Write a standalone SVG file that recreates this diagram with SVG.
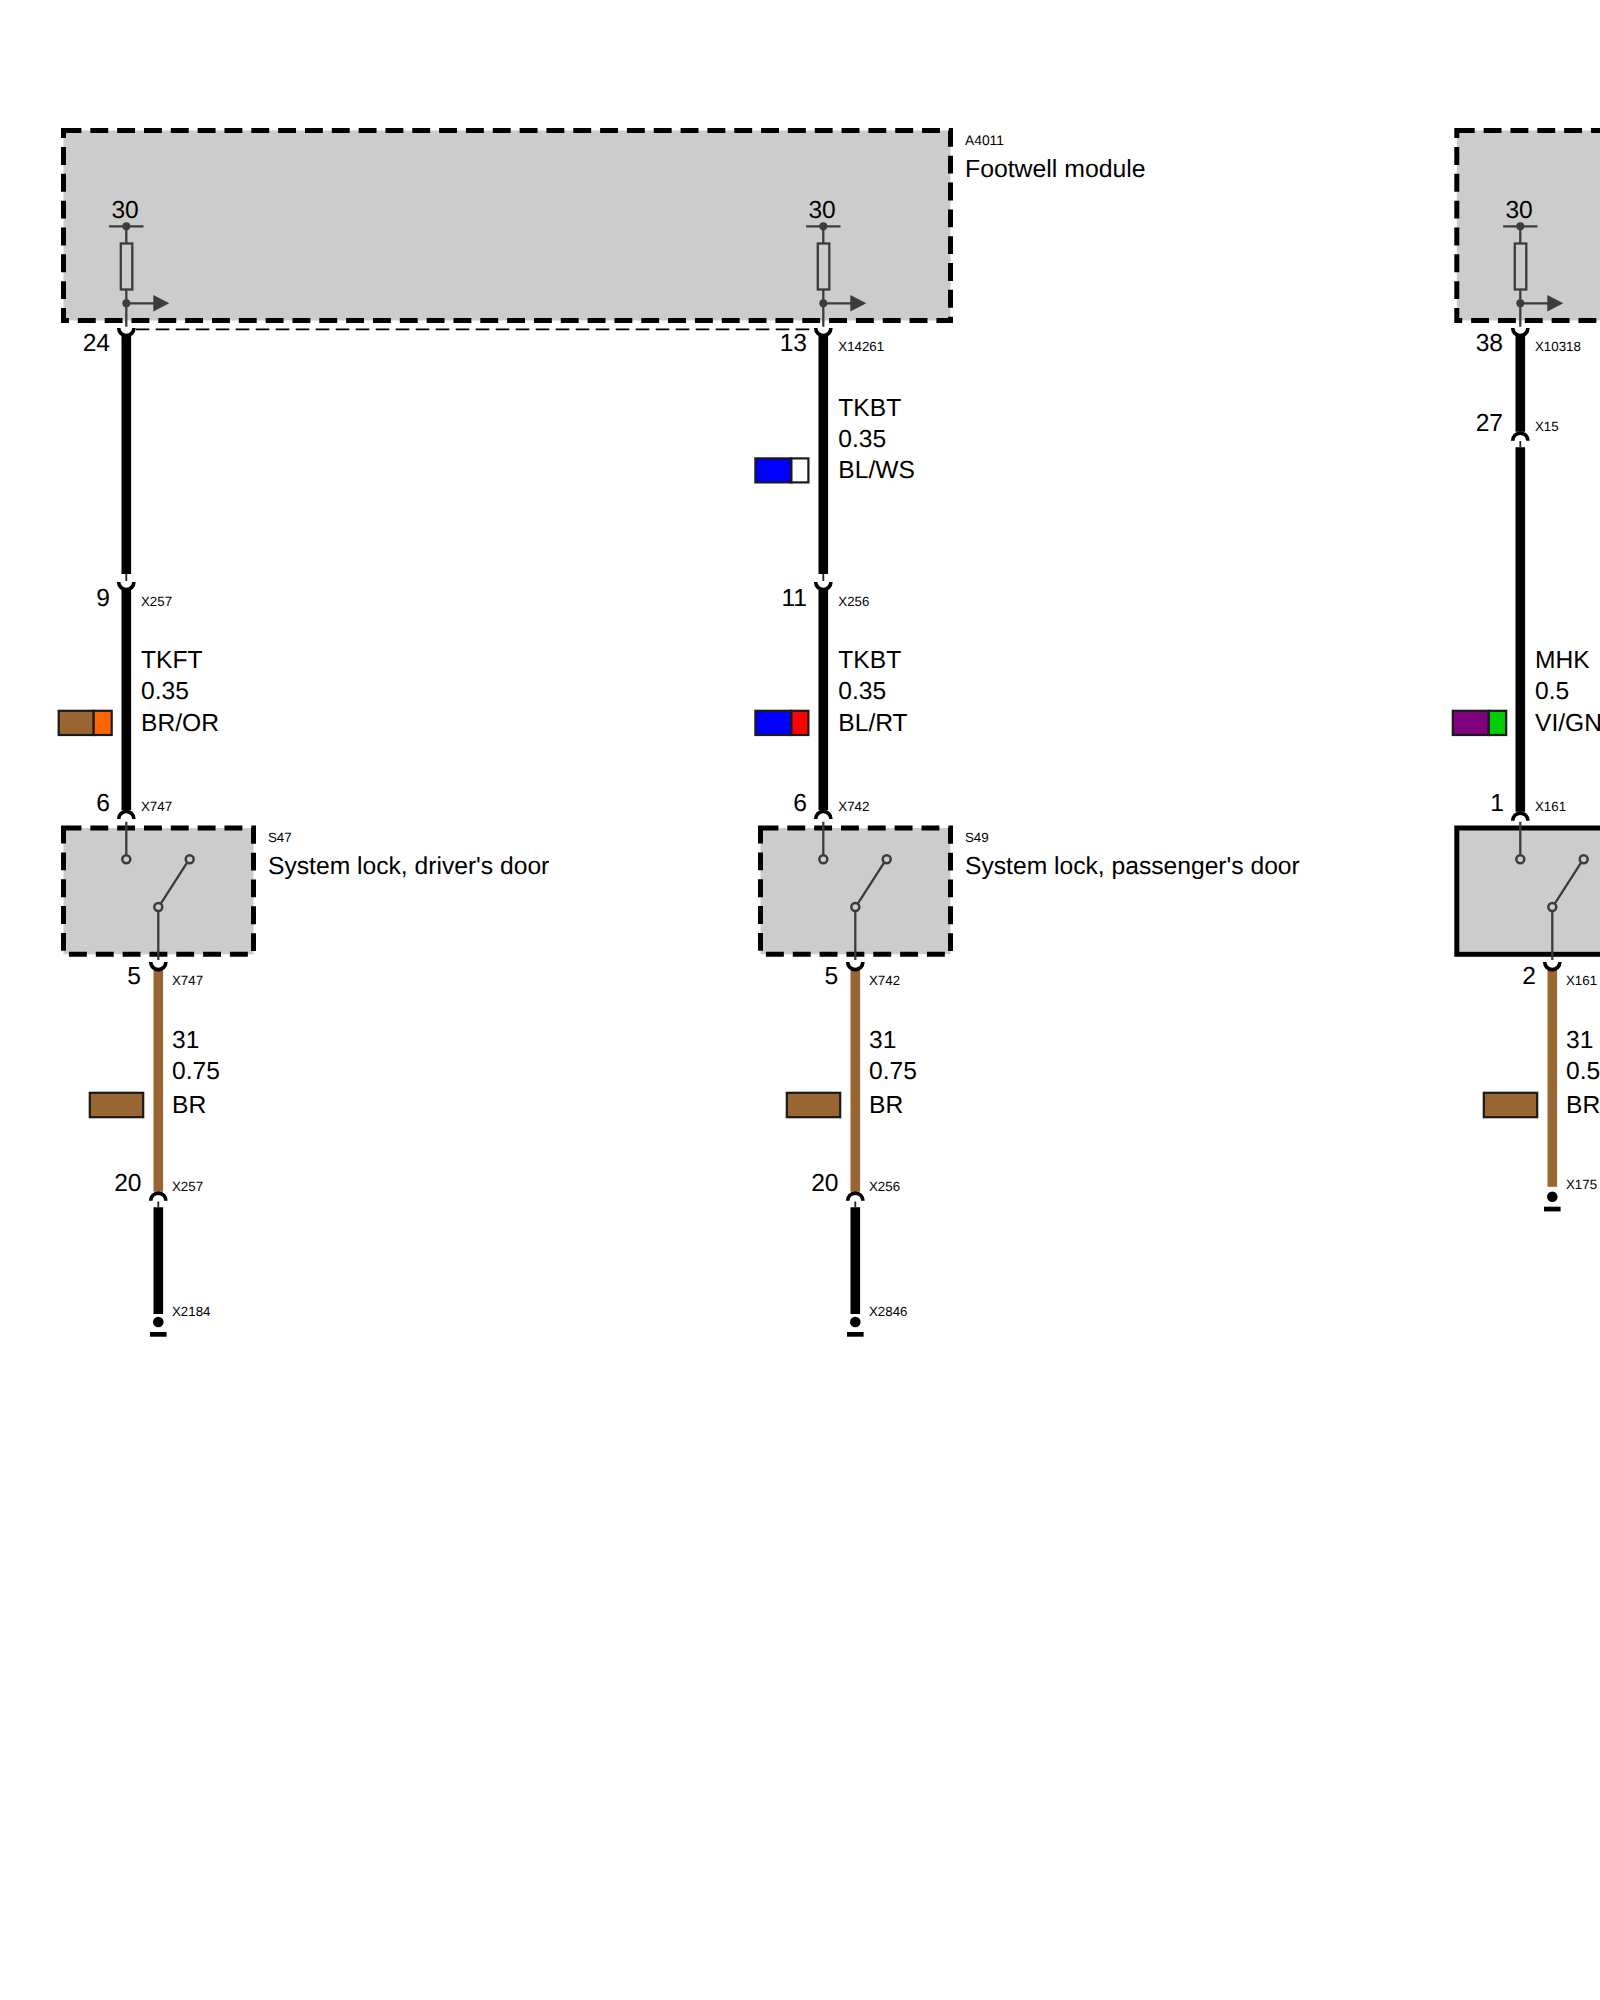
<svg xmlns="http://www.w3.org/2000/svg" xmlns:xlink="http://www.w3.org/1999/xlink" width="1600" height="2000" viewBox="0 0 1600 2000">
<style>
text{font-family:"Liberation Sans",Arial,sans-serif;fill:#000;text-rendering:geometricPrecision}
.l{font-size:24.6px}
.n{font-size:24.8px}
.m{font-size:24.65px}
.s{font-size:13.3px}
.e{text-anchor:end}
.box{fill:#ccc;stroke:#000;stroke-width:5;stroke-dasharray:17.9 8.93}
.solid{fill:#ccc;stroke:#000;stroke-width:5}
.w{fill:none;stroke-width:9.6}
.k{stroke:#000}
.b{stroke:#996633}
.cup{fill:none;stroke:#000;stroke-width:3.6}
.t{fill:none;stroke:#222;stroke-width:1.8}
.g{fill:none;stroke:#3c3c3c;stroke-width:2.3}
.fr{fill:#ccc;stroke:#3c3c3c;stroke-width:2.3}
.dot{fill:#3c3c3c}
.c{fill:#ccc;stroke:#3c3c3c;stroke-width:2.5}
.chip{stroke:#1a1a1a;stroke-width:2.2}
.gd{fill:#000}
.link{fill:none;stroke:#000;stroke-width:1.8;stroke-dasharray:13.6 6.4}
</style>
<defs>
<path id="u" class="cup" d="M-7.6 0A7.6 7.6 0 0 0 7.6 0"/>
<path id="a" class="cup" d="M-7.6 0A7.6 7.6 0 0 1 7.6 0"/>
<g id="fuse">
<path class="g" d="M-17.2 226.3H17.2M0 226.3V243.5M0 289.5V326.7M0 303.3H28"/>
<rect class="fr" x="-5.5" y="243.5" width="11.5" height="46"/>
<circle class="dot" cy="226.3" r="4"/>
<circle class="dot" cy="303.3" r="4"/>
<path class="dot" d="M27 295V311.6L43 303.3Z"/>
</g>
<g id="sw">
<path class="g" d="M0 821.7V855.3M32 903V960M34.5 903.7L60.8 862.6"/>
<circle class="c" cy="859.3" r="4"/>
<circle class="c" cx="63.4" cy="859.3" r="4"/>
<circle class="c" cx="32" cy="907" r="4"/>
</g>
<g id="gnd">
<circle class="gd" r="5.3"/>
<rect class="gd" x="-8.3" y="10" width="16.6" height="4.7"/>
</g>
</defs>

<g id="module-A4011">
<rect class="box" x="63.5" y="130.5" width="887" height="190"/>
<use xlink:href="#fuse" href="#fuse" x="126.3"/>
<use xlink:href="#fuse" href="#fuse" x="823.3"/>
<text class="l" x="111.4" y="218">30</text>
<text class="l" x="808.4" y="218">30</text>
<text class="s" x="965" y="145" style="font-size:13.8px">A4011</text>
<text class="n" x="965" y="177">Footwell module</text>
</g>

<g id="module-right">
<rect class="box" x="1456.8" y="130.5" width="887" height="190"/>
<use xlink:href="#fuse" href="#fuse" x="1520.3"/>
<text class="l" x="1505.4" y="218">30</text>
</g>

<g id="switch-S47">
<rect class="box" x="63.5" y="828" width="190" height="126.3"/>
<use xlink:href="#sw" href="#sw" x="126.3"/>
<text class="s" x="268" y="842">S47</text>
<text class="m" x="268" y="874">System lock, driver's door</text>
</g>

<g id="switch-S49">
<rect class="box" x="760.5" y="828" width="190" height="126.3"/>
<use xlink:href="#sw" href="#sw" x="823.3"/>
<text class="s" x="965" y="842">S49</text>
<text class="m" x="965" y="874">System lock, passenger's door</text>
</g>

<g id="switch-right">
<rect class="solid" x="1456.8" y="828" width="190" height="126.3"/>
<use xlink:href="#sw" href="#sw" x="1520.3"/>
</g>

<g id="connectors">
<path class="link" d="M135.7 329.3H813.5"/>
<path class="w k" d="M126.3 336V574M126.3 590V810M158.3 1207.3V1314M823.3 336V574M823.3 590V810M855.3 1207.3V1314M1520.3 336V431.7M1520.3 447.3V811.7"/>
<path class="w b" d="M158.3 970V1191.7M855.3 970V1191.7M1552.3 970V1186.7"/>
<path class="t" d="M126.3 574V581M158.3 1201.5V1207.3M823.3 574V581M855.3 1201.5V1207.3M1520.3 441V447.3"/>
<g id="cups">
<use xlink:href="#u" href="#u" x="126.3" y="328"/>
<use xlink:href="#u" href="#u" x="126.3" y="582"/>
<use xlink:href="#a" href="#a" x="126.3" y="819"/>
<use xlink:href="#u" href="#u" x="158.3" y="962"/>
<use xlink:href="#a" href="#a" x="158.3" y="1200.7"/>
<use xlink:href="#u" href="#u" x="823.3" y="328"/>
<use xlink:href="#u" href="#u" x="823.3" y="582"/>
<use xlink:href="#a" href="#a" x="823.3" y="819"/>
<use xlink:href="#u" href="#u" x="855.3" y="962"/>
<use xlink:href="#a" href="#a" x="855.3" y="1200.7"/>
<use xlink:href="#u" href="#u" x="1520.3" y="328"/>
<use xlink:href="#a" href="#a" x="1520.3" y="440.7"/>
<use xlink:href="#a" href="#a" x="1520.3" y="820.7"/>
<use xlink:href="#u" href="#u" x="1552.3" y="962"/>
</g>
<use xlink:href="#gnd" href="#gnd" x="158.3" y="1322"/>
<use xlink:href="#gnd" href="#gnd" x="855.3" y="1322"/>
<use xlink:href="#gnd" href="#gnd" x="1552.3" y="1196.7"/>
</g>

<g id="wire-labels-1">
<text class="l e" x="110" y="351">24</text>
<text class="l e" x="110" y="605.5">9</text>
<text class="s" x="141" y="605.5">X257</text>
<text class="l" x="141" y="667.7">TKFT</text>
<text class="l" x="141" y="698.7">0.35</text>
<text class="l" x="141" y="730.7">BR/OR</text>
<rect class="chip" x="58.7" y="710.8" width="35" height="24.2" fill="#996633"/>
<rect class="chip" x="93.7" y="710.8" width="18" height="24.2" fill="#ff6600"/>
<text class="l e" x="110" y="810.7">6</text>
<text class="s" x="141" y="811">X747</text>
<text class="l e" x="141" y="984">5</text>
<text class="s" x="172" y="985">X747</text>
<text class="l" x="172" y="1047.7">31</text>
<text class="l" x="172" y="1078.7">0.75</text>
<text class="l" x="172" y="1112.7">BR</text>
<rect class="chip" x="89.8" y="1092.8" width="53.4" height="24.4" fill="#996633"/>
<text class="l e" x="141.5" y="1190.7">20</text>
<text class="s" x="172" y="1191">X257</text>
<text class="s" x="172" y="1316">X2184</text>
</g>

<g id="wire-labels-2">
<text class="l e" x="807" y="351">13</text>
<text class="s" x="838.3" y="351">X14261</text>
<text class="l" x="838.3" y="415.7">TKBT</text>
<text class="l" x="838.3" y="446.7">0.35</text>
<text class="l" x="838.3" y="477.7">BL/WS</text>
<rect class="chip" x="755.4" y="458.4" width="36" height="24" fill="#0000ff"/>
<rect class="chip" x="791.4" y="458.4" width="17" height="24" fill="#ffffff"/>
<text class="l e" x="807" y="605.5">11</text>
<text class="s" x="838.3" y="605.5">X256</text>
<text class="l" x="838.3" y="667.7">TKBT</text>
<text class="l" x="838.3" y="698.7">0.35</text>
<text class="l" x="838.3" y="730.7">BL/RT</text>
<rect class="chip" x="755.4" y="710.8" width="36" height="24.2" fill="#0000ff"/>
<rect class="chip" x="791.4" y="710.8" width="17" height="24.2" fill="#ff0000"/>
<text class="l e" x="807" y="810.7">6</text>
<text class="s" x="838.3" y="811">X742</text>
<text class="l e" x="838.3" y="984">5</text>
<text class="s" x="869" y="985">X742</text>
<text class="l" x="869" y="1047.7">31</text>
<text class="l" x="869" y="1078.7">0.75</text>
<text class="l" x="869" y="1112.7">BR</text>
<rect class="chip" x="786.8" y="1092.8" width="53.4" height="24.4" fill="#996633"/>
<text class="l e" x="838.5" y="1190.7">20</text>
<text class="s" x="869" y="1191">X256</text>
<text class="s" x="869" y="1316">X2846</text>
</g>

<g id="wire-labels-3">
<text class="l e" x="1503" y="351">38</text>
<text class="s" x="1535" y="351">X10318</text>
<text class="l e" x="1503" y="430.7">27</text>
<text class="s" x="1535" y="431">X15</text>
<text class="l" x="1535" y="667.7">MHK</text>
<text class="l" x="1535" y="698.7">0.5</text>
<text class="l" x="1535" y="730.7">VI/GN</text>
<rect class="chip" x="1452.8" y="710.8" width="36" height="24.2" fill="#800080"/>
<rect class="chip" x="1488.8" y="710.8" width="17.4" height="24.2" fill="#00cc00"/>
<text class="l e" x="1504" y="810.7">1</text>
<text class="s" x="1535" y="811">X161</text>
<text class="l e" x="1536" y="984">2</text>
<text class="s" x="1566" y="985">X161</text>
<text class="l" x="1566" y="1047.7">31</text>
<text class="l" x="1566" y="1078.7">0.5</text>
<text class="l" x="1566" y="1112.7">BR</text>
<rect class="chip" x="1483.8" y="1092.8" width="53.4" height="24.4" fill="#996633"/>
<text class="s" x="1566" y="1189">X175</text>
</g>
</svg>
